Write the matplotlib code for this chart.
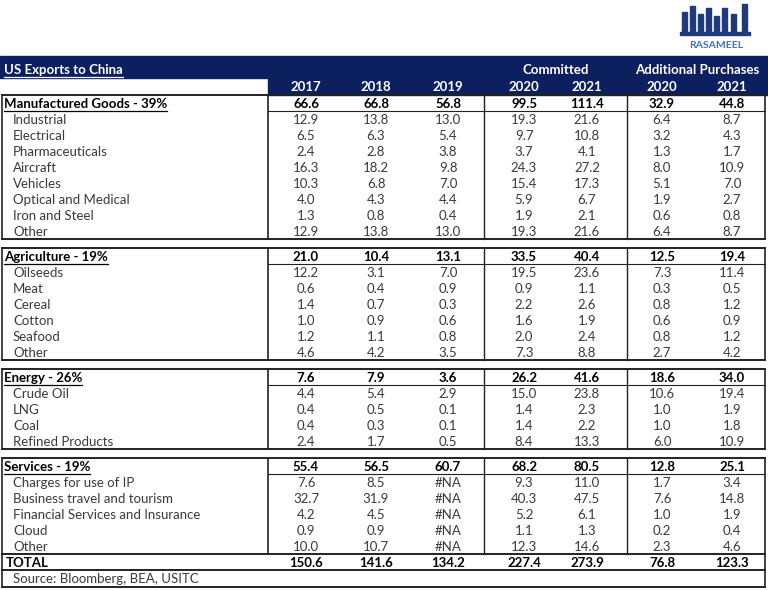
import matplotlib.pyplot as plt
from matplotlib.patches import Rectangle

NAVY = "#0c1f5e"
GRID = "#222222"
TEXT = "#3a3a3a"

title = "US Exports to China"
group_labels = ["Committed", "Additional Purchases"]
years = ["2017", "2018", "2019", "2020", "2021", "2020", "2021"]

section_names = [
    "Manufactured Goods - 39%",
    "Agriculture - 19%",
    "Energy - 26%",
    "Services - 19%",
]
section_totals = [
    [66.6, 66.8, 56.8, 99.5, 111.4, 32.9, 44.8],
    [21.0, 10.4, 13.1, 33.5, 40.4, 12.5, 19.4],
    [7.6, 7.9, 3.6, 26.2, 41.6, 18.6, 34.0],
    [55.4, 56.5, 60.7, 68.2, 80.5, 12.8, 25.1],
]

manufactured_items = ["Industrial", "Electrical", "Pharmaceuticals", "Aircraft",
                      "Vehicles", "Optical and Medical", "Iron and Steel", "Other"]
manufactured_values = [
    [12.9, 13.8, 13.0, 19.3, 21.6, 6.4, 8.7],
    [6.5, 6.3, 5.4, 9.7, 10.8, 3.2, 4.3],
    [2.4, 2.8, 3.8, 3.7, 4.1, 1.3, 1.7],
    [16.3, 18.2, 9.8, 24.3, 27.2, 8.0, 10.9],
    [10.3, 6.8, 7.0, 15.4, 17.3, 5.1, 7.0],
    [4.0, 4.3, 4.4, 5.9, 6.7, 1.9, 2.7],
    [1.3, 0.8, 0.4, 1.9, 2.1, 0.6, 0.8],
    [12.9, 13.8, 13.0, 19.3, 21.6, 6.4, 8.7],
]

agriculture_items = ["Oilseeds", "Meat", "Cereal", "Cotton", "Seafood", "Other"]
agriculture_values = [
    [12.2, 3.1, 7.0, 19.5, 23.6, 7.3, 11.4],
    [0.6, 0.4, 0.9, 0.9, 1.1, 0.3, 0.5],
    [1.4, 0.7, 0.3, 2.2, 2.6, 0.8, 1.2],
    [1.0, 0.9, 0.6, 1.6, 1.9, 0.6, 0.9],
    [1.2, 1.1, 0.8, 2.0, 2.4, 0.8, 1.2],
    [4.6, 4.2, 3.5, 7.3, 8.8, 2.7, 4.2],
]

energy_items = ["Crude Oil", "LNG", "Coal", "Refined Products"]
energy_values = [
    [4.4, 5.4, 2.9, 15.0, 23.8, 10.6, 19.4],
    [0.4, 0.5, 0.1, 1.4, 2.3, 1.0, 1.9],
    [0.4, 0.3, 0.1, 1.4, 2.2, 1.0, 1.8],
    [2.4, 1.7, 0.5, 8.4, 13.3, 6.0, 10.9],
]

services_items = ["Charges for use of IP", "Business travel and tourism",
                  "Financial Services and Insurance", "Cloud", "Other"]
services_values = [
    [7.6, 8.5, None, 9.3, 11.0, 1.7, 3.4],
    [32.7, 31.9, None, 40.3, 47.5, 7.6, 14.8],
    [4.2, 4.5, None, 5.2, 6.1, 1.0, 1.9],
    [0.9, 0.9, None, 1.1, 1.3, 0.2, 0.4],
    [10.0, 10.7, None, 12.3, 14.6, 2.3, 4.6],
]

total_values = [150.6, 141.6, 134.2, 227.4, 273.9, 76.8, 123.3]
source_note = "Source: Bloomberg, BEA, USITC"

section_items = [manufactured_items, agriculture_items, energy_items, services_items]
section_values = [manufactured_values, agriculture_values, energy_values, services_values]

# layout in pixels
W, H = 768, 590
col_x = [306, 376, 448, 524, 587, 662, 732]
left, right = 2, 765
label_div = 268
dividers = [484, 627]
row_h = 16
gap = 9


def fmt(v):
    return "#NA" if v is None else f"{v:.1f}"


def underline(ax, txt, color):
    fig.canvas.draw()
    bb = txt.get_window_extent().transformed(ax.transData.inverted())
    ax.plot([bb.x0, bb.x1], [bb.y0 + 0.5, bb.y0 + 0.5], color=color, lw=0.9)


fig = plt.figure(figsize=(W / 100, H / 100), dpi=100)
ax = fig.add_axes([0, 0, 1, 1])
ax.set_xlim(0, W)
ax.set_ylim(H, 0)
ax.axis("off")
plt.rcParams["font.family"] = ["Lato", "DejaVu Sans"]
fs = 9.5

# logo
bars = [(682, 12, 22), (690, 6, 28), (698, 14, 20), (706, 8, 26),
        (714, 16, 18), (722, 8, 26), (731, 14, 20), (742, 4, 30)]
for bx, by, bh in bars:
    ax.add_patch(Rectangle((bx, by), 4.5, bh, color="#1f3a7a"))
ax.add_patch(Rectangle((680, 32), 70, 3, color="#1f3a7a"))
ax.text(716, 45, "RASAMEEL", ha="center", va="center", fontsize=7.5,
        fontweight="bold", color="#3f6fbf")

# navy header band
ax.add_patch(Rectangle((0, 56), W, 22, color=NAVY))
ax.add_patch(Rectangle((label_div, 78), W - label_div, 17, color=NAVY))
t = ax.text(4, 70, title, ha="left", va="center", fontsize=fs,
            fontweight="bold", color="white")
underline(ax, t, "white")
ax.text((col_x[3] + col_x[4]) / 2, 70, group_labels[0], ha="center",
        va="center", fontsize=fs, fontweight="bold", color="white")
ax.text((col_x[5] + col_x[6]) / 2, 70, group_labels[1], ha="center",
        va="center", fontsize=fs, fontweight="bold", color="white")
for x, yr in zip(col_x, years):
    ax.text(x, 87, yr, ha="center", va="center", fontsize=fs,
            fontweight="bold", color="white")

y = 95
for name, totals, items, values in zip(section_names, section_totals,
                                       section_items, section_values):
    top = y
    bottom = top + row_h * (len(items) + 1)
    # header row
    t = ax.text(4, top + 9, name, ha="left", va="center", fontsize=fs,
                fontweight="bold", color="black")
    underline(ax, t, "black")
    for x, v in zip(col_x, totals):
        ax.text(x, top + 9, fmt(v), ha="center", va="center", fontsize=fs,
                fontweight="bold", color="black")
    for i, (item, row) in enumerate(zip(items, values)):
        yc = top + row_h * (i + 1) + 9
        ax.text(13, yc, item, ha="left", va="center", fontsize=fs, color=TEXT)
        for x, v in zip(col_x, row):
            ax.text(x, yc, fmt(v), ha="center", va="center", fontsize=fs,
                    color=TEXT)
    # borders
    ax.plot([left, right], [top, top], color=GRID, lw=1.4)
    ax.plot([left, right], [bottom, bottom], color=GRID, lw=1.4)
    ax.plot([label_div, right], [top + row_h, top + row_h], color=GRID, lw=0.8)
    for x in [left, label_div, right]:
        ax.plot([x, x], [top, bottom], color=GRID, lw=1.2)
    for x in dividers:
        ax.plot([x, x], [top, bottom], color=GRID, lw=1.0)
    y = bottom + gap

# total and source rows
y -= gap
ax.text(6, y + 9, "TOTAL", ha="left", va="center", fontsize=fs,
        fontweight="bold", color="black")
for x, v in zip(col_x, total_values):
    ax.text(x, y + 9, fmt(v), ha="center", va="center", fontsize=fs,
            fontweight="bold", color="black")
ax.plot([left, right], [y + row_h, y + row_h], color=GRID, lw=1.4)
ax.plot([left, right], [y + 2 * row_h + 1, y + 2 * row_h + 1], color=GRID, lw=1.4)
for x in [left, right]:
    ax.plot([x, x], [y, y + 2 * row_h + 1], color=GRID, lw=1.2)
ax.text(13, y + row_h + 9, source_note, ha="left", va="center",
        fontsize=fs, color=TEXT)

fig.savefig("out.png", dpi=100)
